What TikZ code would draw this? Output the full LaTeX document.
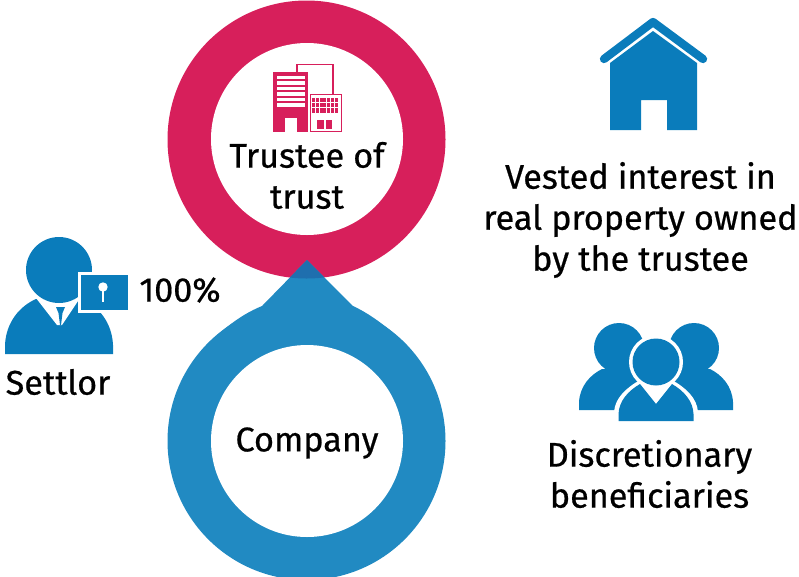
\documentclass[tikz,border=0pt]{standalone}
\usepackage{fontspec}
\setmainfont[FakeBold=0.6]{Fira Sans}
\definecolor{ringred}{HTML}{D71F5B}
\definecolor{ringblue}{HTML}{218AC2}
\definecolor{iconblue}{HTML}{0A7CBB}
\definecolor{overlap}{HTML}{1F6FAE}
\tikzset{
  lab/.style={font=\fontsize{34.2}{41}\selectfont, text=black, inner sep=0pt, align=center},
  whitefill/.style={fill=white, draw=none},
  redfill/.style={fill=ringred, draw=none}
}
\begin{document}
\begin{tikzpicture}[x=1pt,y=-1pt]
\useasboundingbox (0,0) rectangle (799,576);
% rings
\fill[ringred] (306.5,139.5) circle[radius=139];
\fill[ringblue] (306.5,441) circle[radius=139];
\fill[ringblue] (307,260) -- (262,306) .. controls (245,313) and (233,322) .. (222,331) -- (306,441)
  -- (391,331) .. controls (380,322) and (368,313) .. (353,306) -- cycle;
\begin{scope}
  \clip (307,260) -- (262,306) -- (353,306) -- cycle;
  \fill[overlap] (306.5,139.5) circle[radius=139];
\end{scope}
\fill[white] (307,139) circle[radius=96];
\fill[white] (307,441) circle[radius=96];
% building
\draw[ringred, line width=1.3pt] (297,72) -- (297,64.5) -- (333,64.5) -- (333,94);
\fill[redfill] (273,72) rectangle (308,132);
\foreach \k in {0,...,5}{\fill[whitefill] (277,{75.7+\k*5.55}) rectangle (305,{79+\k*5.55});}
\fill[whitefill] (285,118) rectangle (297,132);
\draw[ringred, line width=1.3pt] (310.5,94.5) rectangle (341.5,131.5);
\foreach \i in {0,...,6}{\foreach \j in {0,1,2}{
  \fill[redfill] ({312+\i*3.8},{97.5+\j*5.4}) rectangle ({315+\i*3.8},{102+\j*5.4});}}
\fill[redfill] (317,120) rectangle (324,129);
\fill[redfill] (325.5,120) rectangle (332,129);
% settlor
\fill[iconblue] (5,354) -- (5,345) .. controls (6,322) and (20,306) .. (36,299) -- (82,299)
  .. controls (98,306) and (112,322) .. (113,345) -- (113,354) -- cycle;
\fill[white] (36,298) -- (57,325) -- (62,325) -- (80,298) -- cycle;
\fill[white] (59,270) circle[radius=35];
\fill[iconblue] (59,270) circle[radius=33];
\fill[iconblue] (56,307) -- (65,307) -- (62.5,313) -- (61,325) -- (60,325) -- (58.5,313) -- cycle;
\fill[white] (78,271.5) rectangle (130,313);
\fill[iconblue] (81,274.5) rectangle (127.5,310);
\fill[white] (103,287) circle[radius=4.7];
\fill[white] (101.6,288) rectangle (104.4,302);
% house
\fill[iconblue] (610,63) -- (653,31) -- (697,63) -- (697,130) -- (667,130) -- (667,100) -- (641,100) -- (641,130) -- (610,130) -- cycle;
\draw[iconblue, line width=8.3pt, line cap=round, line join=round] (604,59) -- (653,22) -- (703,59);
% beneficiaries
\fill[iconblue] (619,348) circle[radius=25];
\fill[iconblue] (694,348) circle[radius=25];
\fill[iconblue] (579,410) -- (579,402) .. controls (580,386) and (590,375) .. (602,369) -- (640,369) -- (640,410) -- cycle;
\fill[iconblue] (733,410) -- (733,402) .. controls (732,386) and (722,375) .. (710,369) -- (672,369) -- (672,410) -- cycle;
\fill[white] (656,362) circle[radius=27];
\fill[white] (614,421.5) -- (614,412) .. controls (615,398) and (626,388) .. (640,380) -- (672,380)
  .. controls (686,388) and (697,398) .. (698,412) -- (698,421.5) -- cycle;
\fill[iconblue] (656,362) circle[radius=23.5];
\fill[iconblue] (618.5,421) -- (618.5,414) .. controls (619,401) and (628,391) .. (640,384) -- (656,404) -- (672,384)
  .. controls (684,391) and (693,401) .. (693.5,414) -- (693.5,421) -- cycle;
% labels
\node[lab] (trustee) at (307,175.5) {Trustee of\\trust};
\node[lab] (company) at (307,443) {Company};
\node[lab] (settlor) at (58,382) {Settlor};
\node[lab] (pct) at (180,290) {100\%};
\node[lab] (vested) at (640.5,220) {Vested interest in\\real property owned\\by the trustee};
\node[lab] (disc) at (649.5,474) {Discretionary\\beneficiaries};
\end{tikzpicture}
\end{document}
